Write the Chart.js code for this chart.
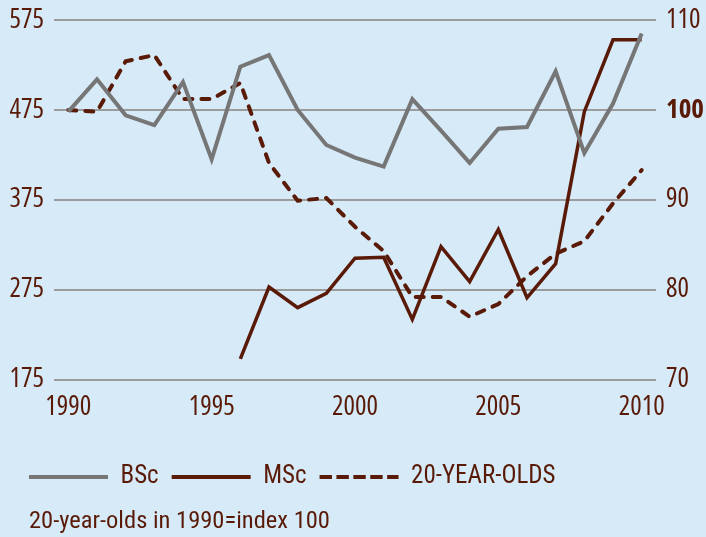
<!DOCTYPE html>
<html>
<head>
<meta charset="utf-8">
<script src="https://cdn.jsdelivr.net/npm/chart.js@4.4.1/dist/chart.umd.min.js"></script>
<style>
  html, body { margin: 0; padding: 0; background: #d6eaf8; }
  #wrap { width: 706px; height: 537px; position: relative; }
</style>
</head>
<body>
<div id="wrap"><canvas id="c"></canvas></div>
<script>
const years = ['1990','1991','1992','1993','1994','1995','1996','1997','1998','1999','2000',
               '2001','2002','2003','2004','2005','2006','2007','2008','2009','2010'];
const bsc = [473, 509, 469, 458, 506, 420, 523, 536, 475, 436, 422,
             412, 487, 452, 416, 454, 456, 518, 427, 482, 560];
const msc = [null, null, null, null, null, null, 198, 278, 255, 271, 310,
             311, 242, 323, 284, 342, 266, 304, 473, 553, 553];
const twentyYearOlds = [100, 99.8, 105.4, 106.1, 101.2, 101.2, 103.0, 94.1, 89.9, 90.2, 87.0,
                        84.3, 79.2, 79.2, 77.0, 78.4, 81.5, 84.0, 85.4, 89.6, 93.3];
const leftTicks = [175, 275, 375, 475, 575];
const rightTicks = [70, 80, 90, 100, 110];
const seriesNames = ['BSc', 'MSc', '20-YEAR-OLDS'];
const noteText = '20-year-olds in 1990=index 100';

const BROWN = '#5a1a08';
const GREY = '#767676';
const COND = 'condensed';        // font-stretch keyword
const TICK_FAMILY = '"Open Sans", "Noto Sans", sans-serif';
const TEXT_FAMILY = '"Roboto Condensed", Roboto, sans-serif';
Chart.defaults.font.family = TICK_FAMILY;
Chart.defaults.font.weight = COND;
Chart.defaults.color = BROWN;

const legendDash = [12.4, 4.5];
const LEGEND_PAD = 13;

const boxPlacement = {
  id: 'boxPlacement',
  afterLayout(chart) {
    if (chart.titleBlock) { chart.titleBlock.left = 29; }
    if (chart.legend) { chart.legend.left = 29 - LEGEND_PAD; }
  }
};

new Chart(document.getElementById('c'), {
  type: 'line',
  data: {
    labels: years,
    datasets: [
      { label: seriesNames[0], data: bsc, yAxisID: 'y', borderColor: GREY, backgroundColor: GREY,
        borderWidth: 4, pointRadius: 0, tension: 0, borderCapStyle: 'butt', borderJoinStyle: 'miter' },
      { label: seriesNames[1], data: msc, yAxisID: 'y', borderColor: BROWN, backgroundColor: BROWN,
        borderWidth: 3.5, pointRadius: 0, tension: 0, borderCapStyle: 'butt', borderJoinStyle: 'miter' },
      { label: seriesNames[2], data: twentyYearOlds, yAxisID: 'y1', borderColor: BROWN, backgroundColor: BROWN,
        borderWidth: 4, pointRadius: 0, tension: 0, borderDash: [8, 9], borderCapStyle: 'round', borderJoinStyle: 'miter' }
    ]
  },
  options: {
    responsive: true,
    maintainAspectRatio: false,
    animation: false,
    layout: { padding: { left: 0, right: 0, top: 20, bottom: 0 } },
    scales: {
      x: {
        type: 'category',
        offset: true,
        grid: { display: false, drawTicks: false },
        border: { display: false },
        ticks: {
          autoSkip: false, maxRotation: 0, minRotation: 0, padding: 12,
          font: { size: 27, weight: COND }, color: BROWN,
          callback: function(v, i) { return Number(years[i]) % 5 === 0 ? years[i] : ''; }
        },
        afterFit: function(s) { s.height = 72; }
      },
      y: {
        position: 'left', min: leftTicks[0], max: leftTicks[leftTicks.length - 1],
        afterBuildTicks: function(s) { s.ticks = leftTicks.map(v => ({ value: v })); },
        grid: { color: '#9c9c9c', lineWidth: 2, drawTicks: false },
        border: { display: false },
        ticks: { padding: 10, font: { size: 27, weight: COND, lineHeight: 0.7 }, color: BROWN },
        afterFit: function(s) { s.width = 54; }
      },
      y1: {
        position: 'right', min: rightTicks[0], max: rightTicks[rightTicks.length - 1],
        afterBuildTicks: function(s) { s.ticks = rightTicks.map(v => ({ value: v })); },
        grid: { display: false, drawTicks: false },
        border: { display: false },
        ticks: {
          padding: 10, color: BROWN,
          font: function(ctx) {
            const bold = ctx.tick && ctx.tick.value === 100;
            return { size: 27, lineHeight: 0.7, weight: bold ? 'bold ' + COND : COND };
          }
        },
        afterFit: function(s) { s.width = 50; }
      }
    },
    plugins: {
      legend: {
        display: true, position: 'bottom', align: 'start',
        labels: {
          usePointStyle: true, pointStyle: 'line', pointStyleWidth: 79,
          padding: LEGEND_PAD, font: { family: TEXT_FAMILY, size: 25, weight: 'normal' }, color: BROWN,
          generateLabels: function(chart) {
            const items = Chart.defaults.plugins.legend.labels.generateLabels(chart);
            return items.map(function(item) {
              const ds = chart.data.datasets[item.datasetIndex];
              item.lineDash = ds.borderDash ? legendDash : [];
              item.lineCap = 'butt';
              item.lineWidth = 4;
              item.strokeStyle = ds.borderColor;
              return item;
            });
          }
        }
      },
      title: {
        display: true, position: 'bottom', align: 'start', text: noteText,
        font: { family: TEXT_FAMILY, size: 24.5, weight: 'normal', lineHeight: 1.2 }, color: BROWN,
        padding: { top: 8, bottom: 0 }
      },
      tooltip: { enabled: false }
    }
  },
  plugins: [boxPlacement]
});
</script>
</body>
</html>
